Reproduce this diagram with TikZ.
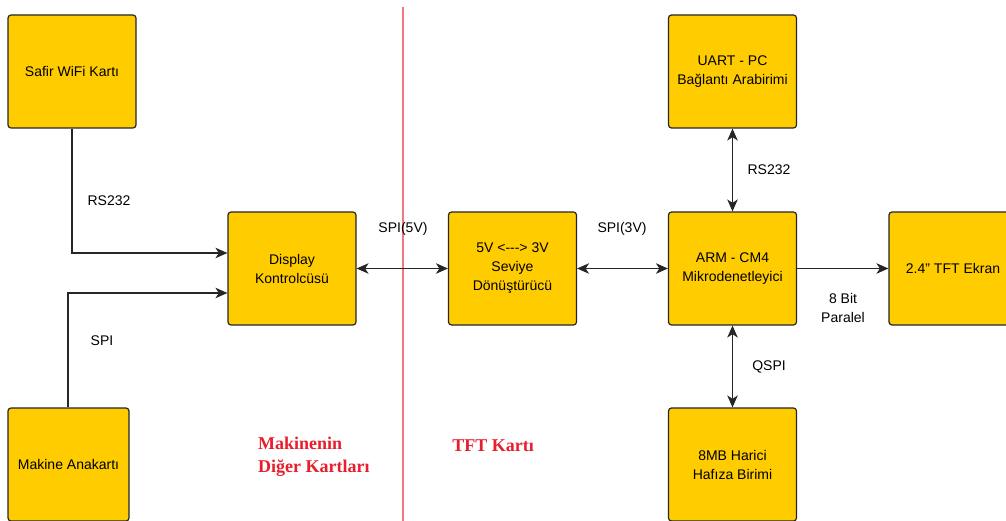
\documentclass[tikz,border=0pt]{standalone}
\usepackage{fontspec}
\setmainfont{Liberation Sans}
\newfontfamily\kartfont{Liberation Serif}
\usetikzlibrary{arrows.meta}
\definecolor{kutusari}{RGB}{255,204,0}
\definecolor{kartkirmizi}{RGB}{232,30,45}
\definecolor{ayrac}{RGB}{240,120,130}

\begin{document}
\begin{tikzpicture}[x=1pt,y=-1pt]
\tikzstyle{blok}=[draw=black!85,fill=kutusari,rounded corners=3pt,line width=1.2pt,minimum width=128pt,minimum height=113pt,align=center,inner sep=0pt,font=\fontsize{14}{19}\selectfont];
\tikzstyle{etiket}=[align=center,inner sep=0pt,font=\fontsize{14}{19}\selectfont];
\tikzstyle{kart}=[align=left,inner sep=0pt,text=kartkirmizi,font=\kartfont\bfseries\fontsize{18}{23}\selectfont];
\tikzstyle{ok}=[draw=black!85,line width=1.3pt,-{Stealth[length=12pt,width=10.5pt,inset=3.5pt]}];
\tikzstyle{ciftok}=[draw=black!85,line width=1.3pt,{Stealth[length=12pt,width=10.5pt,inset=3.5pt]}-{Stealth[length=12pt,width=10.5pt,inset=3.5pt]}];

\clip (0,0) rectangle (1006,521);
\fill[white] (0,0) rectangle (1006,521);

% ayirici cizgi
\coordinate (ust) at (403,7);
\coordinate (alt) at (403,521);
\draw[ayrac,line width=1.2pt] (ust) -- (alt);

% makinenin diger kartlari
\node [blok] (safir) at (72,71.5) {Safir WiFi Kart\i};
\node [blok,minimum width=121pt] (makine) at (68.5,464.5) {Makine Anakart\i};
\node [blok] (disp) at (292,268.5) {Display\\Kontrolc\"us\"u};

% tft karti
\node [blok] (conv) at (512.5,268.5) {5V <{-}{-}{-}> 3V\\Seviye\\D\"on\"u\c{s}t\"ur\"uc\"u};
\node [blok] (arm) at (732.5,268.5) {ARM - CM4\\Mikrodenetleyici};
\node [blok] (uart) at (732.5,71.5) {UART - PC\\Ba\u{g}lant\i{} Arabirimi};
\node [blok] (hafiza) at (732.5,464.5) {8MB Harici\\Haf\i za Birimi};
\node [blok] (tft) at (953,268.5) {2.4" TFT Ekran};

\node [kart,anchor=west] (diger) at (258,456.5) {Makinenin\\Di\u{g}er Kartlar\i};
\node [kart] (tftkart) at (493,446) {TFT Kart\i};

% baglantilar
\draw [ok] (safir.south) |- ([yshift=15.5pt]disp.west);
\draw [ok] ([xshift=-0.5pt]makine.north) |- ([yshift=-24.5pt]disp.west);
\draw [ciftok] (disp.east) -- (conv.west);
\draw [ciftok] (conv.east) -- (arm.west);
\draw [ciftok] (uart.south) -- (arm.north);
\draw [ciftok] (arm.south) -- (hafiza.north);
\draw [ok] (arm.east) -- (tft.west);

\node [etiket] (rs1) at (109,201) {RS232};
\node [etiket] (spi) at (102,341) {SPI};
\node [etiket] (spi5) at (403,229) {SPI(5V)};
\node [etiket] (spi3) at (622,229) {SPI(3V)};
\node [etiket] (rs2) at (769,170) {RS232};
\node [etiket] (qspi) at (769,367) {QSPI};
\node [etiket] (paralel) at (843,308) {8 Bit\\Paralel};
\end{tikzpicture}
\end{document}
